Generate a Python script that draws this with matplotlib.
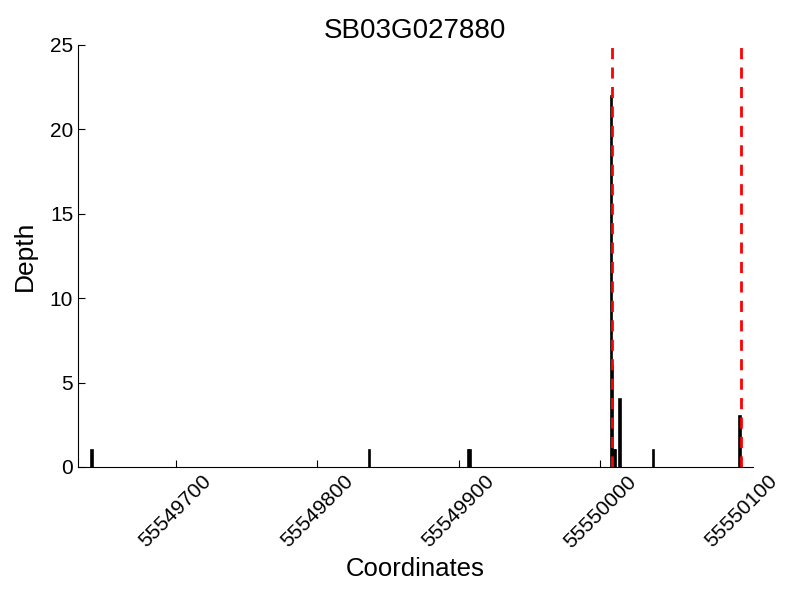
import matplotlib
matplotlib.use("Agg")
import matplotlib.pyplot as plt

plt.rcParams['font.family'] = ['Liberation Sans', 'DejaVu Sans']

title = "SB03G027880"
positions = [55549641, 55549837, 55549907, 55549908, 55550008, 55550009, 55550010, 55550011, 55550014, 55550038, 55550099]
depths = [1, 1, 1, 1, 22, 6, 1, 1, 4, 1, 3]
feature_bounds = [55550008.5, 55550099.5]
xticks = [55549700, 55549800, 55549900, 55550000, 55550100]
yticks = [0, 5, 10, 15, 20, 25]

fig = plt.figure(figsize=(8, 6), dpi=100)
ax = fig.add_axes([0.0975, 0.2217, 0.8435, 0.7033])
ax.bar(positions, depths, width=1, color='black', edgecolor='black', linewidth=1.2)
for b in feature_bounds:
    ax.axvline(b, color='red', linestyle=(0, (4, 3)), linewidth=2)

ax.set_xlim(55549631, 55550108)
ax.set_ylim(0, 25)
ax.set_xticks(xticks)
ax.set_xticklabels([str(t) for t in xticks], rotation=45, fontsize=15)
ax.set_yticks(yticks)
ax.set_yticklabels([str(t) for t in yticks], fontsize=15)
ax.tick_params(direction='in', length=5)
ax.spines['top'].set_visible(False)
ax.spines['right'].set_visible(False)
ax.set_title(title, fontsize=20, pad=5)
ax.set_xlabel("Coordinates", fontsize=18.5)
ax.set_ylabel("Depth", fontsize=19, labelpad=9)
fig.savefig("out.png", dpi=100)
